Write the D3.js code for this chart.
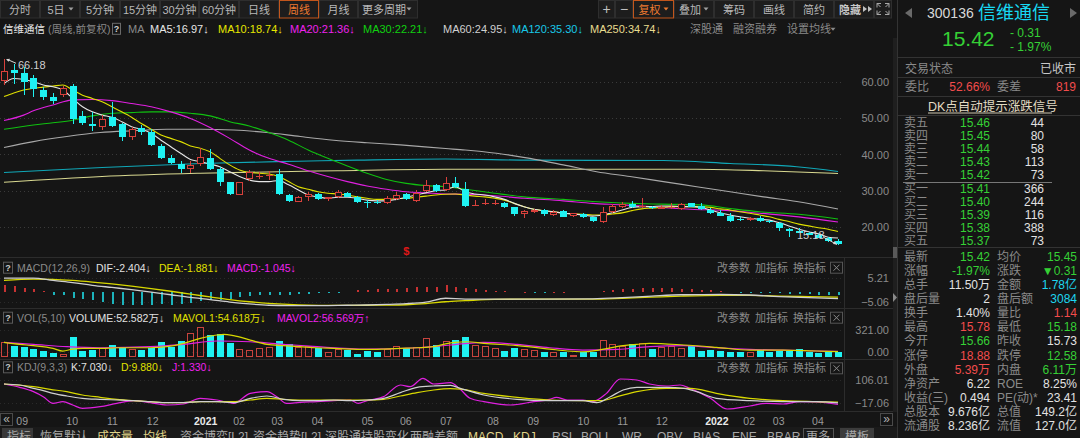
<!DOCTYPE html>
<html>
<head>
<meta charset="utf-8">
<script src="https://cdn.jsdelivr.net/npm/d3@7/dist/d3.min.js"></script>
<style>
html,body{margin:0;padding:0;background:#151515;overflow:hidden;}
svg{display:block;}
text{font-family:"Liberation Sans",Arial,"Noto Sans CJK SC",sans-serif;}
</style>
</head>
<body>
<svg id="chart" width="1080" height="438"></svg>
<script>
// ================= DATA =================
const opens = [60.3,63.2,62.5,60.9,57.7,55.9,56.3,58.9,50.6,48.3, 47.4,50.2,48.3,44.7,47.2,46.2,42.3,38.9,37.3,36.0, 37.3,38.9,35.9,32.3,28.8,33.3,34.0,34.3,34.6,28.8, 27.0,28.2,29.1,27.6,28.2,29.4,28.2,27.0,26.8,26.5, 27.6,29.1,27.2,30.0,31.5,30.2,32.2,30.4,25.9,26.3, 26.2,26.5,25.4,23.5,24.0,24.7,23.3,24.4,23.1,23.6, 22.7,21.5,24.0,25.6,26.3,25.5,25.6,25.0,25.3,24.9, 26.5,25.9,24.7,23.9,23.1,22.3,21.9,22.4,21.7,21.2, 19.4,18.8,18.4,17.9,17.0,16.1];
const highs = [66.18,65.0,64.1,61.8,58.6,57.0,58.8,59.4,52.0,51.7, 50.8,54.3,48.7,47.4,48.1,46.9,42.8,39.8,38.3,38.3, 41.7,41.4,36.6,32.5,32.5,35.7,35.2,35.5,35.9,29.1, 28.5,29.7,29.4,28.3,30.2,29.7,28.5,27.4,27.4,28.5, 29.7,29.3,30.2,32.9,31.8,33.7,33.9,32.5,27.3,27.6, 27.4,27.0,25.6,24.7,24.9,24.9,24.7,24.7,23.9,23.8, 22.8,25.6,26.2,27.0,27.1,27.9,25.9,26.1,26.5,26.5, 26.7,26.5,25.1,24.7,23.8,22.8,22.8,23.0,21.9,21.5, 19.6,19.8,18.7,18.0,17.3,16.6];
const lows = [59.1,59.5,56.3,55.9,55.0,53.9,55.9,48.3,48.1,46.4, 46.7,47.4,43.8,43.9,45.3,42.3,38.6,37.3,35.0,34.8, 36.8,35.7,31.4,28.8,28.7,32.7,33.2,32.9,28.8,26.9, 26.8,27.2,27.4,27.2,27.9,28.2,26.7,25.1,26.3,26.2, 27.4,27.4,27.0,29.6,29.7,30.0,30.6,25.6,25.7,26.1, 26.1,25.1,23.1,22.4,23.9,23.1,23.1,22.7,22.8,22.6, 21.3,21.2,23.8,25.1,25.1,25.1,24.9,24.9,24.9,24.7, 25.4,24.7,23.6,23.0,21.5,21.7,21.7,21.5,21.2,19.0, 17.3,18.3,17.8,16.9,16.0,15.18];
const closes = [63.0,62.5,60.0,57.9,55.7,54.8,58.3,49.7,48.5,47.8, 49.7,47.9,44.7,46.9,46.2,42.6,38.9,37.5,36.1,37.0, 39.2,36.1,32.5,29.0,32.3,35.1,34.1,34.4,29.1,27.1, 28.3,29.1,27.7,28.2,29.7,28.3,26.9,26.5,26.7,28.1, 28.8,27.6,29.3,31.5,30.0,32.0,30.9,25.9,26.1,26.6, 26.7,25.4,23.6,24.4,24.7,23.6,24.2,22.8,23.8,22.7, 21.7,24.2,25.9,26.3,25.6,25.7,25.1,25.6,25.5,26.3, 25.6,24.9,23.8,23.1,21.7,22.1,22.6,21.7,21.3,19.8, 18.8,18.4,17.9,17.0,16.1,15.42];
// weekly volume (万手)
const volumes = [153,118,107,82,61,43,29,210,61,71, 89,125,103,82,68,96,153,103,168,253, 321,232,239,143,82,71,89,107,168,132, 107,118,89,53,82,71,32,61,53,82, 118,96,103,196,125,168,178,214,125,114, 89,64,96,78,71,53,53,46,18,46, 53,178,132,118,132,143,82,107,118,89, 118,64,71,64,53,46,45,70,48,64, 66,80,46,40,54,52.58];
// moving averages
const ma5 = [59.5,60.9,60.6,60.0,59.1,58.6,57.7,55.4,53.1,51.7, 50.8,50.2,49.0,47.6,46.9,45.8,43.9,42.1,40.3,38.6, 38.0,37.3,36.6,35.2,33.9,32.9,32.5,32.5,32.8,31.6, 30.2,28.8,28.3,27.9,28.2,28.2,27.9,27.4,27.2,27.2, 27.6,28.2,28.8,29.4,30.0,30.2,31.1,29.7,29.1,28.8, 28.3,27.6,26.5,25.6,24.9,24.5,24.2,23.8,23.6,23.3, 23.0,23.3,23.9,24.7,25.4,25.6,25.6,25.8,25.8,25.6, 25.6,25.4,24.7,23.9,23.3,22.8,22.4,22.1,21.9,21.2, 20.3,19.4,18.7,18.1,17.2,16.97];
const ma10 = [55.9,56.9,57.7,58.2,58.5,58.8,59.1,57.7,56.3,55.4, 54.5,53.1,51.7,50.2,48.5,46.9,45.3,44.4,43.5,42.3, 41.7,40.7,38.9,37.1,35.7,35.0,34.8,34.6,33.9,32.5, 31.1,30.4,29.7,29.3,29.1,28.8,28.3,27.9,27.6,27.6, 27.8,27.9,28.2,28.5,28.8,29.0,29.1,28.8,28.5,28.3, 27.9,27.4,26.5,25.6,24.9,24.5,24.2,23.8,23.6,23.5, 23.3,23.3,23.6,23.9,24.5,25.0,25.2,25.4,25.6,25.6, 25.6,25.6,25.4,25.0,24.7,24.2,23.8,23.3,22.8,22.1, 21.5,20.8,20.3,19.8,19.4,18.74];
const ma20 = [[0,49.3],[2,50.8],[3,52.0],[5,53.6],[7,55.0],[9,55.1],[11,54.8],[13,54.0],[15,53.1],[17,51.7],[19,49.9],[21,47.4],[23,44.4],[25,41.2],[27,38.9],[29,37.3],[31,35.5],[33,33.9],[35,32.5],[37,31.3],[39,30.4],[41,29.7],[43,29.4],[45,29.1],[47,29.0],[50,28.6],[53,27.9],[57,27.2],[60,26.5],[63,26.1],[67,25.4],[70,24.9],[74,24.5],[77,23.8],[81,22.8],[85,21.36]];
const ma30 = [[0,46.9],[3,48.1],[5,48.7],[7,49.4],[9,50.6],[11,51.3],[13,51.5],[15,51.7],[17,51.7],[19,51.3],[21,50.6],[23,49.0],[25,47.8],[27,46.0],[29,43.9],[31,41.2],[33,38.9],[35,36.8],[37,34.8],[39,33.1],[41,32.0],[43,31.4],[45,31.1],[47,30.4],[50,29.3],[53,28.3],[57,27.6],[60,27.0],[64,26.5],[67,26.3],[71,26.1],[74,25.1],[77,24.2],[81,23.5],[85,22.21]];
const ma60 = [[0,41.9],[3,43.5],[6.4,44.9],[9.8,46.0],[13.2,46.5],[16.6,46.9],[20,46.9],[23.4,46.7],[26.8,46.0],[30.2,44.9],[33.6,43.9],[37,43.2],[40.4,42.6],[45,41.6],[47,41.2],[50.2,40.3],[53.6,38.9],[57,37.1],[60.4,35.2],[63.8,33.9],[67.2,32.5],[70.6,31.1],[74,29.7],[77.4,28.3],[80.8,27.0],[85,24.95]];
const ma120 = [[0,35.0],[10,36.4],[20,37.5],[30,38.1],[36,38.4],[45,38.7],[53.6,38.4],[67.2,38.3],[74,37.5],[80.8,36.6],[85,35.30]];
const ma250 = [[0,32.3],[10,33.9],[20,34.8],[34,35.5],[45,35.9],[70.6,35.9],[77.4,35.5],[85,34.74]];
// MACD
const macdHist = [2.47,2.2,1.6,1.0,0.25,-1.0,-1.2,-2.2,-2.7,-3.1, -3.7,-4.3,-4.7,-4.7,-4.7,-4.7,-4.3,-4.7,-4.3,-4.0, -3.5,-3.1,-3.1,-2.5,-1.85,-1.5,-1.2,-1.0,-1.0,-1.0, -0.74,-0.62,-0.5,-0.25,-0.06,0.1,0.6,0.86,1.0,1.23, 1.23,1.48,1.73,1.85,1.85,2.47,1.85,1.5,1.0,0.74, 0.5,0.37,0.1,0.05,-0.05,-0.05,0.05,0.05,0.1,0.15, 0.2,0.25,0.74,1.0,1.23,1.48,1.48,1.6,1.48,1.23, 1.0,0.86,0.62,0.37,0.1,-0.2,-0.25,-0.37,-0.37,-0.5, -0.74,-0.86,-0.86,-0.99,-0.99,-1.045];
const dif = [[0,5.2],[3,5.2],[5,4.3],[7,3.5],[9,2.5],[11,1.7],[13,0.9],[15,0],[17,-1.0],[19,-2.0],[21,-2.8],[23,-3.7],[25,-4.4],[27,-4.9],[29,-5.06],[31,-5.06],[33,-5.0],[35,-4.9],[37,-4.8],[39,-4.6],[41,-4.3],[43,-3.7],[45,-2.3],[47,-2.6],[50,-2.6],[55,-2.6],[60,-2.5],[63,-2.1],[66,-1.5],[69,-1.0],[73,-0.9],[76,-1.1],[79,-1.7],[82,-2.1],[85,-2.404]];
const dea = [[0,4.3],[3,4.8],[5,4.7],[7,4.3],[9,3.7],[11,3.0],[13,2.2],[15,1.3],[17,0.3],[19,-0.8],[21,-1.8],[23,-2.8],[25,-3.6],[27,-4.2],[29,-4.6],[31,-4.85],[33,-4.95],[35,-4.95],[37,-4.9],[39,-4.85],[41,-4.7],[43,-4.3],[45,-3.6],[47,-3.2],[50,-2.7],[55,-2.6],[60,-2.6],[63,-2.3],[66,-1.9],[69,-1.5],[73,-1.2],[76,-1.2],[79,-1.5],[82,-1.7],[85,-1.881]];
// volume moving averages
const mavol1 = [[0,153],[1.6,132],[3,118],[5,89],[6,60],[7,82],[8,89],[10,89],[11.5,96],[13.2,96],[14.9,96],[16.6,107],[18.3,143],[20,196],[21.7,232],[22.4,239],[23.4,225],[25.1,178],[26.8,132],[28.5,118],[30.2,107],[31.9,96],[33.6,89],[35.3,82],[37,78],[38.7,82],[40.4,89],[42.1,96],[43.8,107],[45,138],[46,154],[47.2,160],[48.9,143],[52.3,118],[55.6,82],[57.4,61],[59,53],[60.6,71],[63.1,118],[64.5,132],[65.8,143],[69.3,125],[72.6,100],[76,71],[79.4,71],[82.8,61],[85,54.618]];
const mavol2 = [[0,153],[3,132],[6.4,107],[9.8,96],[14.9,107],[18.3,132],[21.7,168],[25.1,160],[28.5,132],[31.9,107],[37,82],[42.1,96],[45.5,125],[48.9,153],[52.3,132],[55.6,96],[59,71],[62.5,78],[65.8,107],[69.3,118],[72.6,96],[76,78],[79.4,71],[82.8,61],[85,56.569]];
// KDJ
const kLine = [[0,82.2],[1.6,78.2],[3,65.0],[4,55.7],[5,45.1],[6.4,34.5],[8,25.3],[9.8,21.3],[11.5,18.7],[13.2,16.0],[14.9,12.0],[16.6,8.1],[18.3,8.1],[20,12.0],[21.7,12.0],[23.4,8.1],[25.1,25.3],[26.8,34.5],[28.5,21.3],[30.2,16.0],[31.9,16.0],[33.6,18.7],[35.3,16.0],[37,18.7],[38.7,25.3],[40.4,47.8],[42.1,69.0],[43.8,74.2],[45.5,76.9],[46.5,65.0],[48.9,38.5],[52.3,21.3],[55.6,16.0],[59,16.0],[60.4,8.1],[61.8,31.9],[63.1,58.4],[64.5,69.0],[67.5,69.0],[69.3,65.0],[70.6,51.8],[72.6,25.3],[76,16.0],[79.4,12.0],[82.8,12.0],[85,7.03]];
const dLine = [[0,82.2],[3,71.6],[4.7,61.0],[6.4,51.8],[8,38.5],[9.8,29.3],[11.5,21.3],[13.2,16.0],[14.9,12.0],[16.6,8.1],[18.3,8.1],[20,12.0],[23.4,12.0],[25.1,18.7],[26.8,25.3],[28.5,21.3],[30.2,18.7],[33.6,18.7],[37,18.7],[38.7,21.3],[40.4,34.5],[42.1,47.8],[43.8,58.4],[45.5,63.7],[46.5,62.0],[48.9,45.1],[52.3,29.3],[55.6,18.7],[59,16.0],[60.9,16.0],[62.5,31.9],[64.5,51.8],[67.5,65.0],[70,65.0],[72.6,45.1],[76,25.3],[79.4,16.0],[82.8,12.0],[85,9.88]];
const jLine = [[0,82.2],[1.6,69.0],[3,51.8],[4,31.9],[5,5.4],[6,12.0],[7,-1.2],[8,-14.4],[9.8,-7.8],[11.5,5.4],[13.2,16.0],[14.9,8.1],[16.6,-1.2],[18.3,2.8],[20,25.3],[21.7,18.7],[23.4,5.4],[25.1,45.1],[26.8,51.8],[27.8,31.9],[28.8,5.4],[30.2,9.4],[31.9,12.0],[33.6,16.0],[35.3,18.7],[36.1,5.4],[37,16.0],[38.7,31.9],[40.4,78.2],[41.4,71.6],[42.7,104.7],[43.8,82.2],[45.5,87.5],[46.5,61.0],[47.5,25.3],[48.9,12.0],[50.6,1.5],[51.6,-1.2],[54,12.0],[55.6,21.3],[56.3,29.3],[57.4,18.7],[59,18.7],[60,12.0],[61.4,45.1],[62.8,102.0],[64.5,98.1],[65.8,82.2],[67.5,74.2],[68.9,78.2],[69.9,65.0],[72,25.3],[73.7,-17.06],[76,-5.1],[77.7,5.4],[79.4,2.8],[81.1,12.0],[82.8,10.7],[85,1.33]];

// axes / labels
const priceTicks = [20,30,40,50,60];
const macdTicks = [5.21,-5.06];
const volTicks = [321,0];
const kdjTicks = [106.01,-17.06];
const xTickPos = [1.8,6.9,11,15.1,20.5,23.9,27.8,31.9,37,40.9,45,49.8,53.9,59,63,67,72.6,75.9,78.9,82.9];
const xTickLabels = ["09","10","11","12","2021","02","03","04","05","06","07","08","09","10","11","12","2022","02","03","04"];
const highMark = {week:0, value:66.18};
const lowMark = {week:85, value:15.18};
const markerWeek = 41;

const maNames = ["MA5","MA10","MA20","MA30","MA60","MA120","MA250"];
const maLast = ["16.97","18.74","21.36","22.21","24.95","35.30","34.74"];
const macdNames = ["DIF","DEA","MACD"];
const macdLast = ["-2.404","-1.881","-1.045"];
const volNames = ["VOLUME","MAVOL1","MAVOL2"];
const volLast = ["52.582万","54.618万","56.569万"];
const volTrend = ["down","down","up"];
const kdjNames = ["K","D","J"];
const kdjLast = ["7.030","9.880","1.330"];

const leftButtons = ["分时","5日","5分钟","15分钟","30分钟","60分钟","日线","周线","月线","更多周期"];
const rightButtons = ["+","−","复权","叠加","筹码","画线","简约","隐藏",""];
const bottomTabs = ["指标","恢复默认","成交量","均线","资金博弈[L2]","资金趋势[L2]","深股通持股变化","两融差额","MACD","KDJ","RSI","BOLL","WR","OBV","BIAS","ENE","BRAR","更多","模板"];

const stockCode = "300136", stockName = "信维通信";
const lastPrice = "15.42", change = "- 0.31", changePct = "- 1.97%";
const bookLabels = ["卖五","卖四","卖三","卖二","卖一","买一","买二","买三","买四","买五"];
const bookPrices = ["15.46","15.45","15.44","15.43","15.42","15.41","15.40","15.39","15.38","15.37"];
const bookVols = [44,80,58,113,73,366,244,116,388,73];
const statLabelsL = ["最新","涨幅","总手","盘后量","换手","最高","今开","涨停","外盘","净资产","收益(三)","总股本","流通股"];
const statValuesL = ["15.42","-1.97%","11.50万","2","1.40%","15.78","15.66","18.88","5.39万","6.22","0.494","9.676亿","8.236亿"];
const statDirL = ["down","down","flat","flat","flat","up","down","up","up","flat","flat","flat","flat"];
const statLabelsR = ["均价","涨跌","金额","盘后额","量比","最低","昨收","跌停","内盘","ROE","PE(动)*","总值","流值"];
const statValuesR = ["15.45","▼0.31","1.78亿","3084","1.14","15.18","15.73","12.58","6.11万","8.25%","23.41","149.2亿","127.0亿"];
const statDirR = ["down","down","money","money","up","down","flat","down","down","flat","flat","flat","flat"];

// ================= DRAW =================
const svg = d3.select("#chart");
const BG="#151515", RED="#d8413c", CYAN="#1ff2f2", TRED="#f24c4c", TGREEN="#35d035", TCYAN="#1ed6f0", TWHITE="#e2e2e2", TGRAY="#8a8a8a";
const dirColor = {up:TRED, down:TGREEN, flat:TWHITE, money:TCYAN};
const maColors = ["#e6e6e6","#e0e000","#e020e0","#10c010","#a8a8a8","#10a8b8","#d8d890"];
const maTextColors = ["#e6e6e6","#e6e600","#ee22ee","#10d010","#d0d0d0","#18c8e8","#e8dc90"];

svg.append("rect").attr("width",1080).attr("height",438).attr("fill",BG);

function T(g,x,y,s,fill,size,anchor,weight){
  return g.append("text").attr("x",x).attr("y",y).attr("fill",fill).attr("font-size",size)
    .attr("text-anchor",anchor||"start").attr("dominant-baseline","central")
    .attr("font-weight",weight||"normal").text(s);
}
function caret(g,cx,cy,color){
  g.append("path").attr("d",`M${cx-2.5},${cy-1.5}L${cx+2.5},${cy-1.5}L${cx},${cy+1.5}Z`).attr("fill",color);
}
function qbox(g,y){
  g.append("rect").attr("x",3.5).attr("y",y-5.5).attr("width",9).attr("height",11).attr("fill","none").attr("stroke","#5a5a5a");
  T(g,8,y,"?","#c8c8c8",9,"middle","bold");
}

// ---------- toolbar ----------
const tb = svg.append("g");
const leftEdges = [0,40,80,120,160,199,239,279,319,358,418];
leftButtons.forEach((b,i)=>{
  const x0=leftEdges[i], x1=leftEdges[i+1], active = b==="周线";
  tb.append("rect").attr("x",x0+0.5).attr("y",0.5).attr("width",x1-x0-1).attr("height",17.5)
    .attr("fill","#1d1d1d").attr("stroke",active?"#c2561c":"#2e2e2e");
  const hasCaret = (b==="5日"||b==="更多周期");
  const cx=(x0+x1)/2 - (hasCaret?4:0);
  T(tb,cx,9.5,b,active?"#ee7a30":"#b8b8b8",11,"middle");
  if(hasCaret) caret(tb, x1-9, 9, "#a0a0a0");
});
const rightEdges = [598,615,633,674,714,754,794,834,874,892];
rightButtons.forEach((b,i)=>{
  const x0=rightEdges[i], x1=rightEdges[i+1], active = b==="复权";
  tb.append("rect").attr("x",x0+0.5).attr("y",0.5).attr("width",x1-x0-1).attr("height",17.5)
    .attr("fill","#1d1d1d").attr("stroke",active?"#c2561c":"#2e2e2e");
  const hasCaret = (b==="复权"||b==="叠加");
  if(b==="+"||b==="−"){ T(tb,(x0+x1)/2,9,b,"#c0c0c0",14,"middle"); }
  else if(b==="隐藏"){
    T(tb,x0+5,9.5,b,"#c8c8c8",11,"start","bold");
    [0,5].forEach(d=>tb.append("path").attr("d",`M${x0+29+d},${6}L${x0+33+d},${9}L${x0+29+d},${12}Z`).attr("fill","#c0c0c0"));
  } else if(b===""){
    const c=(x0+x1)/2, s="#a8a8a8";
    tb.append("path").attr("d",`M${c-6},${3.5}L${c-2},${3.5}M${c-6},${3.5}L${c-6},${7.5}M${c-6},${3.5}L${c-2.5},${7}`+
      `M${c+6},${3.5}L${c+2},${3.5}M${c+6},${3.5}L${c+6},${7.5}M${c+6},${3.5}L${c+2.5},${7}`+
      `M${c-6},${14.5}L${c-2},${14.5}M${c-6},${14.5}L${c-6},${10.5}M${c-6},${14.5}L${c-2.5},${11}`+
      `M${c+6},${14.5}L${c+2},${14.5}M${c+6},${14.5}L${c+6},${10.5}M${c+6},${14.5}L${c+2.5},${11}`).attr("stroke",s).attr("fill","none");
  } else {
    const cx=(x0+x1)/2 - (hasCaret?4:0);
    T(tb,cx,9.5,b,active?"#ee7a30":"#b8b8b8",11,"middle");
    if(hasCaret) caret(tb, x1-8, 9, active?"#ee7a30":"#a0a0a0");
  }
});

// ---------- title bar ----------
const hb = svg.append("g");
const TY=29.3;
T(hb,3,TY,stockName,"#e6e6e6",10.5);
T(hb,48,TY,"(周线,前复权)",TGRAY,10.5);
hb.append("rect").attr("x",112.5).attr("y",TY-6).attr("width",8).attr("height",11).attr("fill","none").attr("stroke","#6a6a6a");
T(hb,116.5,TY,"?","#d0d0d0",9,"middle","bold");
T(hb,128,TY,"MA",TGRAY,11);
const maX=[150,218,290,363,443,512,590];
maNames.forEach((n,i)=>T(hb,maX[i],TY,`${n}:${maLast[i]}↓`,maTextColors[i],11));
T(hb,690,TY,"深股通",TGRAY,11);
T(hb,733,TY,"融资融券",TGRAY,11);
T(hb,787,TY,"设置均线",TGRAY,11);
caret(hb,833,TY,"#8a8a8a");

// ---------- scales ----------
const x = d3.scaleLinear().domain([0,85]).range([4,838]);
const yP = d3.scaleLinear().domain([20,60]).range([227,81.7]);
const yM = d3.scaleLinear().domain([-5.06,5.21]).range([305.7,278]);
const yV = d3.scaleLinear().domain([0,321]).range([356.7,326.7]);
const yK = d3.scaleLinear().domain([-17.06,106.01]).range([409,378]);
const weeks = d3.range(closes.length);

// ---------- frame lines ----------
const fr = svg.append("g").attr("shape-rendering","crispEdges");
[257.5,308.5,359.5,411.5].forEach(y=>fr.append("line").attr("x1",0).attr("x2",893).attr("y1",y).attr("y2",y).attr("stroke","#2c2c2c"));
fr.append("line").attr("x1",844.5).attr("x2",844.5).attr("y1",258).attr("y2",411).attr("stroke","#2c2c2c");
fr.append("rect").attr("x",893).attr("y",38).attr("width",4).attr("height",374).attr("fill","#1f1f1f");
fr.append("rect").attr("x",893).attr("y",247).attr("width",4).attr("height",11).attr("fill","#5a5a5a");
svg.append("path").attr("d","M893,293L897,297.5L893,302Z").attr("fill","#8a8a8a");
fr.append("line").attr("x1",897.5).attr("x2",897.5).attr("y1",0).attr("y2",438).attr("stroke","#333");

// ---------- main price panel ----------
const gMain = svg.append("g");
gMain.selectAll("line.grid").data(priceTicks).join("line")
  .attr("x1",0).attr("x2",844).attr("y1",d=>Math.round(yP(d))+0.5).attr("y2",d=>Math.round(yP(d))+0.5)
  .attr("stroke","#3a3a3a").attr("stroke-dasharray","1,3");
const pAxis = d3.axisLeft(yP).tickValues(priceTicks).tickFormat(d3.format(".2f")).tickSize(0).tickPadding(0);
const gpa = svg.append("g").attr("transform","translate(889,0)").call(pAxis);
gpa.select(".domain").remove();
gpa.selectAll("text").attr("fill",TGRAY).attr("font-size",11).attr("dy","0.35em");

const lineGen = (ys)=>d3.line().x(d=>x(d[0])).y(d=>ys(d[1])).curve(d3.curveMonotoneX);
const pairs = arr=>arr.map((v,i)=>[i,v]);
const maSeries = [pairs(ma5),pairs(ma10),ma20,ma30,ma60,ma120,ma250];
[6,5,4,3,2,1,0].forEach(k=>{
  gMain.append("path").datum(maSeries[k]).attr("d",lineGen(yP)).attr("fill","none")
    .attr("stroke",maColors[k]).attr("stroke-width",1.1);
});

// candles
const gC = gMain.append("g").attr("shape-rendering","crispEdges");
weeks.forEach(i=>{
  const o=opens[i], c=closes[i];
  const cx=Math.round(x(i));
  const up = c>=o;
  const yt=Math.round(yP(Math.max(o,c))), yb=Math.round(yP(Math.min(o,c)));
  const yh=Math.round(yP(highs[i])), yl=Math.round(yP(lows[i]));
  const bh=Math.max(1,yb-yt);
  if(up){
    if(yh<yt) gC.append("line").attr("x1",cx+0.5).attr("x2",cx+0.5).attr("y1",yh).attr("y2",yt).attr("stroke",RED);
    if(yl>yt+bh) gC.append("line").attr("x1",cx+0.5).attr("x2",cx+0.5).attr("y1",yt+bh).attr("y2",yl).attr("stroke",RED);
    if(bh<=2){
      gC.append("rect").attr("x",cx-3).attr("y",yt).attr("width",7).attr("height",bh).attr("fill",RED);
    } else {
      gC.append("rect").attr("x",cx-2.5).attr("y",yt+0.5).attr("width",6).attr("height",bh-1)
        .attr("fill",BG).attr("stroke",RED);
    }
  } else {
    gC.append("line").attr("x1",cx+0.5).attr("x2",cx+0.5).attr("y1",yh).attr("y2",yl).attr("stroke",CYAN);
    gC.append("rect").attr("x",cx-3).attr("y",yt).attr("width",7).attr("height",bh).attr("fill",CYAN);
  }
});

// high / low marks
{
  const hx=x(highMark.week)+2, hy=yP(highMark.value);
  gMain.append("line").attr("x1",hx+1).attr("y1",hy).attr("x2",16).attr("y2",hy+4).attr("stroke","#d8d8d8");
  gMain.append("path").attr("d",`M${hx},${hy}l4,-0.5l-1.5,3z`).attr("fill","#d8d8d8");
  T(gMain,18,65,d3.format(".2f")(highMark.value),"#d0d0d0",11);
  const lx=x(lowMark.week)-1, ly=yP(lowMark.value);
  gMain.append("line").attr("x1",824).attr("y1",237.5).attr("x2",lx).attr("y2",ly).attr("stroke","#d8d8d8");
  gMain.append("path").attr("d",`M${lx},${ly}l-4,-0.5l1.5,-3z`).attr("fill","#d8d8d8");
  T(gMain,797,235,d3.format(".2f")(lowMark.value),"#d0d0d0",11);
  T(gMain,x(markerWeek),250.5,"$","#e01818",11,"middle","bold");
}

// ---------- sub panel headers ----------
function panelButtons(g,y){
  T(g,717,y,"改参数",TGRAY,11);
  T(g,755,y,"加指标",TGRAY,11);
  T(g,793,y,"换指标",TGRAY,11);
  g.append("rect").attr("x",830.5).attr("y",y-5.5).attr("width",12).attr("height",11).attr("fill","none").attr("stroke","#555");
  g.append("path").attr("d",`M${833.5},${y-3}L${839.5},${y+3}M${839.5},${y-3}L${833.5},${y+3}`).attr("stroke","#8a8a8a");
}
const sub = svg.append("g");
const MY=267.7;
qbox(sub,MY);
T(sub,17,MY,"MACD(12,26,9)",TGRAY,10.5);
const macdX=[96,159,227], macdC=["#e2e2e2","#e0e000","#ee22ee"];
macdNames.forEach((n,i)=>T(sub,macdX[i],MY,`${n}:${macdLast[i]}↓`,macdC[i],10.5));
panelButtons(sub,MY);
const VY=317.7;
qbox(sub,VY);
T(sub,17,VY,"VOL(5,10)",TGRAY,10.5);
const volX=[69,173,277];
volNames.forEach((n,i)=>T(sub,volX[i],VY,`${n}:${volLast[i]}${volTrend[i]==="up"?"↑":"↓"}`,macdC[i],10.5));
panelButtons(sub,VY);
const KY=367.3;
qbox(sub,KY);
T(sub,17,KY,"KDJ(9,3,3)",TGRAY,10.5);
const kdjX=[71,121,172];
kdjNames.forEach((n,i)=>T(sub,kdjX[i],KY,`${n}:${kdjLast[i]}↓`,macdC[i],10.5));
panelButtons(sub,KY+1);

function subAxis(scale,ticks,fmt,shifts){
  const ax=d3.axisLeft(scale).tickValues(ticks).tickFormat(fmt).tickSize(0).tickPadding(0);
  const g=svg.append("g").attr("transform","translate(889,0)").call(ax);
  g.select(".domain").remove();
  g.selectAll("text").attr("fill",TGRAY).attr("font-size",11).attr("dy","0.35em")
    .attr("y",(d,i)=>shifts[i]);
  svg.selectAll(null).data(ticks).join("line")
    .attr("x1",0).attr("x2",844).attr("y1",(d,i)=>Math.round(scale(d)+shifts[i])+0.5).attr("y2",(d,i)=>Math.round(scale(d)+shifts[i])+0.5)
    .attr("stroke","#2a2a2a").attr("stroke-dasharray","1,3");
}
subAxis(yM,macdTicks,d3.format(".2f"),[0,-3.7]);
subAxis(yV,volTicks,d3.format(".2f"),[3.3,-4.7]);
subAxis(yK,kdjTicks,d3.format(".2f"),[2,-6]);

// MACD histogram + lines
const gM = svg.append("g");
gM.append("g").attr("shape-rendering","crispEdges").selectAll("rect").data(weeks).join("rect")
  .attr("x",i=>Math.round(x(i))-0.5).attr("width",2)
  .attr("y",i=>Math.min(yM(0),yM(macdHist[i])))
  .attr("height",i=>Math.max(0.6,Math.abs(yM(macdHist[i])-yM(0))))
  .attr("fill",i=>macdHist[i]>=0?"#c83232":"#1cb4bc");
gM.append("path").datum(dea).attr("d",lineGen(yM)).attr("fill","none").attr("stroke","#d8d800").attr("stroke-width",1.3);
gM.append("path").datum(dif).attr("d",lineGen(yM)).attr("fill","none").attr("stroke","#cfcfcf").attr("stroke-width",1.3);

// Volume bars + MAVOL
const gV = svg.append("g");
const gVb = gV.append("g").attr("shape-rendering","crispEdges");
weeks.forEach(i=>{
  const cx=Math.round(x(i));
  const top=Math.round(yV(volumes[i])), bot=Math.round(yV(0));
  if(closes[i]>=opens[i]){
    gVb.append("rect").attr("x",cx-2.5).attr("y",top+0.5).attr("width",6).attr("height",Math.max(0,bot-top-1))
      .attr("fill","none").attr("stroke","#c8443e");
  } else {
    gVb.append("rect").attr("x",cx-3).attr("y",top).attr("width",7).attr("height",bot-top).attr("fill",CYAN);
  }
});
gV.append("path").datum(mavol2).attr("d",lineGen(yV)).attr("fill","none").attr("stroke","#e020e0").attr("stroke-width",1.2);
gV.append("path").datum(mavol1).attr("d",lineGen(yV)).attr("fill","none").attr("stroke","#d8d800").attr("stroke-width",1.2);

// KDJ lines
const gK = svg.append("g");
gK.append("path").datum(jLine).attr("d",lineGen(yK)).attr("fill","none").attr("stroke","#e020e0").attr("stroke-width",1.2);
gK.append("path").datum(dLine).attr("d",lineGen(yK)).attr("fill","none").attr("stroke","#d8d800").attr("stroke-width",1.2);
gK.append("path").datum(kLine).attr("d",lineGen(yK)).attr("fill","none").attr("stroke","#d0d0d0").attr("stroke-width",1.2);

// ---------- x axis ----------
const xAxis = d3.axisBottom(x).tickValues(xTickPos).tickFormat((d,i)=>xTickLabels[i]).tickSize(0).tickPadding(0);
const gx = svg.append("g").attr("transform","translate(0,421.7)").call(xAxis);
gx.select(".domain").remove();
gx.selectAll("text").attr("y",0).attr("dy","0.35em").attr("font-size",10.5)
  .attr("fill",(d,i)=>xTickLabels[i].length===4?"#e8e8e8":"#9a9a9a")
  .attr("font-weight",(d,i)=>xTickLabels[i].length===4?"bold":"normal");
const nav = svg.append("g");
nav.append("rect").attr("x",0.5).attr("y",413.5).attr("width",12).attr("height",12).attr("fill","none").attr("stroke","#4a4a4a");
T(nav,6.5,419,"«","#b0b0b0",12,"middle");
nav.append("rect").attr("x",880.5).attr("y",413.5).attr("width",12).attr("height",12).attr("fill","none").attr("stroke","#4a4a4a");
T(nav,886.5,419,"»","#b0b0b0",12,"middle");

// ---------- bottom tabs (cut by the window edge, as in the reference) ----------
const bt = svg.append("g");
bt.append("rect").attr("x",0).attr("y",427).attr("width",897).attr("height",11).attr("fill","#1a1a1a");
const tabX=[7,40,97,143,180,253,325,410,468,513,552,581,622,657,693,732,767,806,845];
const tabHi = {"成交量":1,"均线":1,"MACD":1,"KDJ":1};
bottomTabs.forEach((t,i)=>{
  if(t==="指标") bt.append("rect").attr("x",2).attr("y",428).attr("width",31).attr("height",10).attr("fill","#383838");
  if(t==="模板") bt.append("rect").attr("x",840).attr("y",428).attr("width",34).attr("height",10).attr("fill","#3c3c3c");
  if(t==="更多") bt.append("rect").attr("x",803.5).attr("y",428.5).attr("width",30).attr("height",12).attr("fill","none").attr("stroke","#555");
  T(bt,tabX[i],437,t,tabHi[t]?"#e0d488":"#a8a8a8",12);
});

// ---------- right panel ----------
const rp = svg.append("g");
const sep = y=>rp.append("line").attr("x1",898).attr("x2",1080).attr("y1",y).attr("y2",y).attr("stroke","#333").attr("shape-rendering","crispEdges");
rp.append("path").attr("d","M912,8L912,18L905,13Z").attr("fill","#6a6a6a");
rp.append("path").attr("d","M1070,8L1070,18L1077,13Z").attr("fill","#6a6a6a");
T(rp,927,13,stockCode,"#d8d8d8",14);
T(rp,978,12.5,stockName,"#18d8f2",18);
T(rp,942,38.5,lastPrice,TGREEN,21);
T(rp,1010,33,change,TGREEN,12);
T(rp,1010,46.5,changePct,TGREEN,12);
sep(57.5);
T(rp,905,69,"交易状态",TGRAY,12);
T(rp,1076,69,"已收市","#c8c8c8",12,"end");
sep(77.5);
T(rp,905,87,"委比",TGRAY,12);
T(rp,990,87,"52.66%",TRED,12,"end");
T(rp,997,87,"委差",TGRAY,12);
T(rp,1076,87,"819",TRED,12,"end");
sep(96.5);
T(rp,928,106.5,"DK点自动提示涨跌信号","#e4dcc4",12.5);
rp.append("line").attr("x1",928).attr("x2",1052).attr("y1",113).attr("y2",113).attr("stroke","#cfc7b0");
sep(115.5);
const bookY=[123.3,136.1,148.9,161.7,174.5,189,201.9,214.8,227.7,240.6];
bookLabels.forEach((l,i)=>{
  T(rp,904,bookY[i],l,TGRAY,12);
  T(rp,990,bookY[i],bookPrices[i],TGREEN,12,"end");
  T(rp,1044,bookY[i],bookVols[i],TWHITE,12,"end");
});
rp.append("line").attr("x1",903).attr("x2",1052).attr("y1",182.5).attr("y2",182.5).attr("stroke","#777");
sep(247.5);
statLabelsL.forEach((l,i)=>{
  const y=256.8+i*14.1;
  T(rp,904,y,l,TGRAY,12);
  T(rp,990,y,statValuesL[i],dirColor[statDirL[i]],12,"end");
  T(rp,997,y,statLabelsR[i],TGRAY,12);
  T(rp,1077,y,statValuesR[i],dirColor[statDirR[i]],12,"end");
});
</script>
</body>
</html>
